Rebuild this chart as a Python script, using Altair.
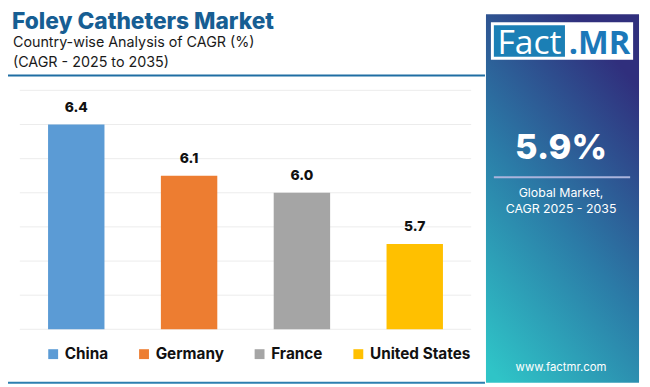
import altair as alt
import pandas as pd

countries = ["China", "Germany", "France", "United States"]
cagr = [6.4, 6.1, 6.0, 5.7]
colors = ["#5B9BD5", "#ED7D31", "#A5A5A5", "#FFC000"]
grid_values = [5.2, 5.4, 5.6, 5.8, 6.0, 6.2, 6.4, 6.6]

title_text = "Foley Catheters Market"
subtitle_1 = "Country-wise Analysis of CAGR (%)"
subtitle_2 = "(CAGR - 2025 to 2035)"
global_value = "5.9%"
global_lines = ["Global Market,", "CAGR 2025 - 2035"]
site = "www.factmr.com"

FONT = "Inter"

df = pd.DataFrame({"country": countries, "cagr": cagr})
grid_df = pd.DataFrame({"v": grid_values})

W, H = 457, 242
y_scale = alt.Scale(domain=[5.2, 6.6], nice=False, zero=False)

x_enc = alt.X("country:N", sort=countries,
              scale=alt.Scale(paddingInner=0.5, paddingOuter=0.25), axis=None)

grid = alt.Chart(grid_df).mark_rule(color="#ececec", strokeWidth=1).encode(
    y=alt.Y("v:Q", scale=y_scale, axis=None))

bars = alt.Chart(df).mark_bar(clip=True).encode(
    x=x_enc,
    y=alt.Y("cagr:Q", scale=y_scale, axis=None),
    color=alt.Color("country:N", sort=countries,
                    scale=alt.Scale(domain=countries, range=colors),
                    legend=alt.Legend(orient="none", direction="horizontal",
                                      legendX=26, legendY=259, title=None,
                                      symbolType="square", symbolSize=100,
                                      symbolStrokeWidth=0, symbolOpacity=1,
                                      labelFont=FONT, labelFontSize=15.5,
                                      labelFontWeight="bold", labelColor="#111111",
                                      labelOffset=4, columnPadding=28, labelLimit=200)),
)

labels = alt.Chart(df).mark_text(baseline="bottom", dy=-10, font=FONT,
                                 fontSize=14, fontWeight=800, color="#111111").encode(
    x=x_enc, y=alt.Y("cagr:Q", scale=y_scale), text=alt.Text("cagr:Q", format=".1f"))

one = alt.Data(values=[{}])


def txt(s, x, y, size, weight="normal", color="#111111", align="left", font=FONT, baseline="alphabetic"):
    return alt.Chart(one).mark_text(text=s, align=align, baseline=baseline, font=font,
                                    fontSize=size, fontWeight=weight, color=color).encode(
        x=alt.value(x), y=alt.value(y))


def box(x, x2, y, y2, fill, **kw):
    return alt.Chart(one).mark_rect(fill=fill, **kw).encode(
        x=alt.value(x), x2=alt.value(x2), y=alt.value(y), y2=alt.value(y2))


# header
title = txt(title_text, -8, -62, 23, 800, "#175e93")
sub1 = txt(subtitle_1, -7, -44, 14.5, "normal", "#1a1a1a")
sub2 = txt(subtitle_2, -7, -24, 14.5, "normal", "#1a1a1a")
top_line = box(-15, 471, -16, -14, "#1f6ea3")
bottom_line = box(-13, 471, 295, 297, "#2c7fb0")

# right panel
grad = alt.LinearGradient(gradient="linear", x1=0.1, y1=1, x2=0.6, y2=0,
                          stops=[alt.GradientStop(color="#2fc4c7", offset=0),
                                 alt.GradientStop(color="#2b7ba7", offset=0.5),
                                 alt.GradientStop(color="#302f7d", offset=1)])
panel = box(472, 627, -77, 296, grad)
logo_bg = box(477, 621, -69, -31, "#ffffff")
logo_fact = box(480, 552, -66, -34, "#1b7fb5")
fact_t = txt("Fact", 516, -37, 34, "normal", "#ffffff", align="center", font="Open Sans")
mr_t = txt(".MR", 587, -37, 33, "bold", "#1c78b9", align="center", font="Open Sans")
big = txt(global_value, 548, 70, 35, 800, "#ffffff", align="center")
sep = box(480, 618, 87, 89, "#aab4dc")
g1 = txt(global_lines[0], 548, 108, 12.5, "normal", "#ffffff", align="center")
g2 = txt(global_lines[1], 548, 124, 12.5, "normal", "#ffffff", align="center")
www = txt(site, 548, 284, 11.5, "normal", "#ffffff", align="center")

chart = alt.layer(
    panel, logo_bg, logo_fact, fact_t, mr_t, big, sep, g1, g2, www,
    title, sub1, sub2, top_line, bottom_line,
    grid, bars, labels,
).properties(
    width=W, height=H,
    autosize=alt.AutoSizeParams(type="none"),
    padding={"left": 12, "top": 81, "right": 173, "bottom": 56},
    background="#ffffff",
).configure_view(stroke=None)

chart.save("out.html", embed_options={"renderer": "svg", "actions": False})
